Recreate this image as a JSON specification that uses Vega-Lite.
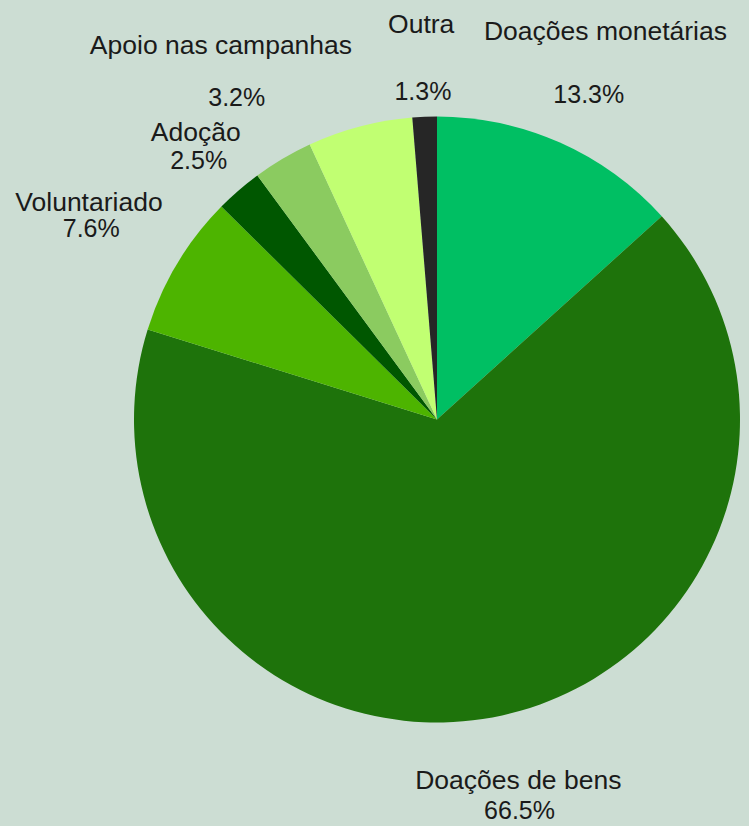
{
  "$schema": "https://vega.github.io/schema/vega-lite/v6.json",
  "autosize": "none",
  "width": 624,
  "height": 813,
  "padding": {"left": 125, "top": 13, "right": 0, "bottom": 0},
  "background": "#CCDDD3",
  "view": {"stroke": null},
  "data": {
    "values": [
      {"categoria": "Doações monetárias", "share": 0.133, "ordem": 1},
      {"categoria": "Doações de bens", "share": 0.665, "ordem": 2},
      {"categoria": "Voluntariado", "share": 0.076, "ordem": 3},
      {"categoria": "Adoção", "share": 0.025, "ordem": 4},
      {"categoria": "Apoio nas campanhas", "share": 0.032, "ordem": 5},
      {"categoria": "Sem rótulo", "share": 0.056, "ordem": 6},
      {"categoria": "Outra", "share": 0.013, "ordem": 7}
    ]
  },
  "layer": [
    {
      "mark": {"type": "arc", "outerRadius": 303, "strokeWidth": 0},
      "encoding": {
        "theta": {"field": "share", "type": "quantitative", "stack": true, "scale": {"domain": [0, 1]}},
        "order": {"field": "ordem", "type": "quantitative"},
        "color": {
          "field": "categoria",
          "type": "nominal",
          "scale": {
            "domain": ["Doações monetárias", "Doações de bens", "Voluntariado", "Adoção", "Apoio nas campanhas", "Sem rótulo", "Outra"],
            "range": ["#00BF63", "#1E730B", "#4DB400", "#005700", "#8BCB60", "#C1FF72", "#262626"]
          },
          "legend": null
        }
      }
    },
    {
      "transform": [
        {"stack": "share", "groupby": [], "sort": [{"field": "ordem", "order": "ascending"}], "as": ["t0", "t1"]},
        {"calculate": "(datum.t0 + datum.t1) / 2", "as": "tmid"}
      ],
      "mark": {"type": "text", "font": "Liberation Sans", "fontSize": 25, "align": "center", "baseline": "alphabetic", "dy": 25, "color": "#1A1A1A"},
      "encoding": {
        "theta": {"field": "tmid", "type": "quantitative", "stack": null, "scale": {"domain": [0, 1]}},
        "radius": {
          "field": "categoria",
          "type": "nominal",
          "scale": {
            "type": "point",
            "padding": 0,
            "domain": ["Outra", "Sem rótulo", "Adoção", "Doações monetárias", "Doações de bens", "Apoio nas campanhas", "Voluntariado"],
            "range": [344.8, 403.2]
          }
        },
        "text": {
          "condition": {"test": "datum.categoria === 'Sem rótulo'", "value": ""},
          "field": "share",
          "type": "quantitative",
          "format": ".1%"
        }
      }
    },
    {
      "transform": [
        {"stack": "share", "groupby": [], "sort": [{"field": "ordem", "order": "ascending"}], "as": ["t0", "t1"]},
        {"calculate": "(datum.t0 + datum.t1) / 2", "as": "tmid"}
      ],
      "mark": {"type": "text", "font": "Liberation Sans", "fontSize": 26.5, "align": "center", "baseline": "alphabetic", "color": "#1A1A1A"},
      "encoding": {
        "theta": {"field": "tmid", "type": "quantitative", "stack": null, "scale": {"domain": [0, 1]}},
        "radius": {
          "field": "categoria",
          "type": "nominal",
          "scale": {
            "type": "point",
            "padding": 0,
            "domain": ["Adoção", "Doações de bens", "Outra", "Sem rótulo", "Voluntariado", "Doações monetárias", "Apoio nas campanhas"],
            "range": [368.75, 424.4]
          }
        },
        "text": {
          "condition": {"test": "datum.categoria === 'Sem rótulo'", "value": ""},
          "field": "categoria",
          "type": "nominal"
        }
      }
    }
  ],
  "resolve": {"scale": {"radius": "independent"}}
}
